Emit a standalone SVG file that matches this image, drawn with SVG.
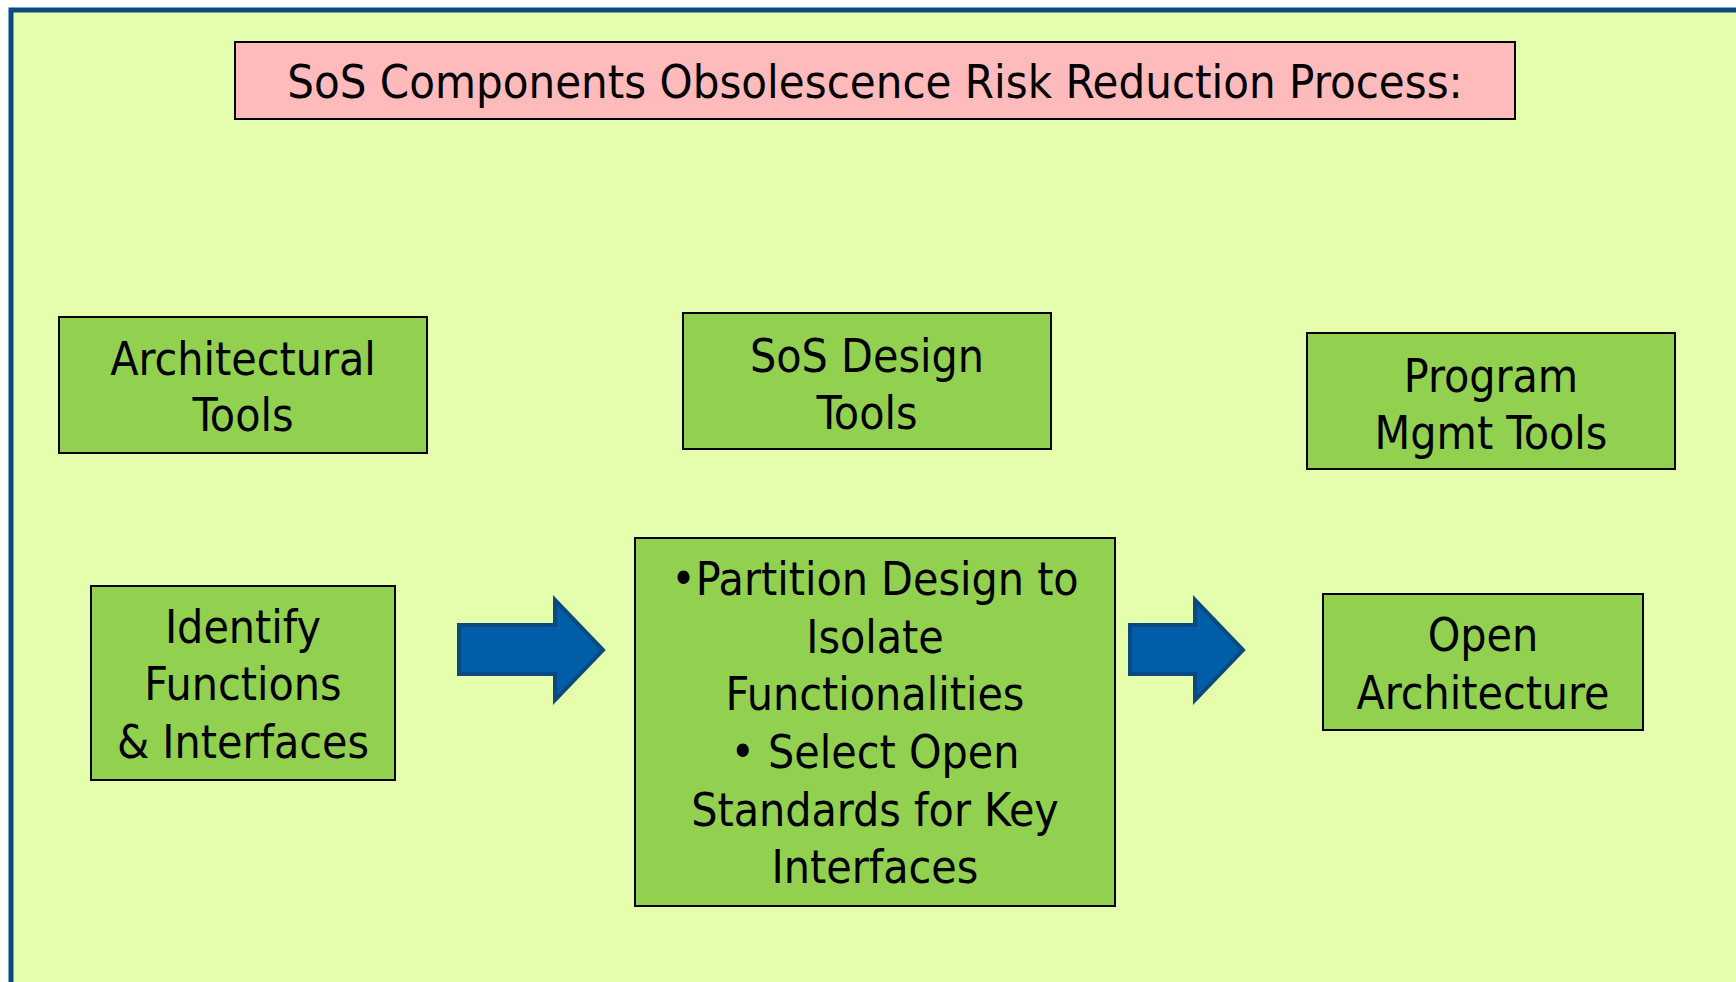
<svg xmlns="http://www.w3.org/2000/svg" width="1736" height="982" viewBox="0 0 1736 982">
<style>
.bg{fill:#E4FEAD;stroke:#0B4A80;stroke-width:5}
.box{fill:#92D050;stroke:#000;stroke-width:2}
.title{fill:#FFBBBB;stroke:#000;stroke-width:2}
.arrow{fill:#005EA8;stroke:#0B4A80;stroke-width:4;stroke-linejoin:miter}
text{font-family:"DejaVu Sans Condensed","DejaVu Sans",sans-serif;font-stretch:condensed;font-size:46px;fill:#000;text-anchor:middle}
</style>
<rect x="0" y="0" width="1736" height="982" fill="#fff"/>
<rect class="bg" x="11" y="10" width="1740" height="990"/>
<g id="title">
<rect class="title" x="235" y="42" width="1280" height="77"/>
<text x="875" y="98" style="font-size:46.8px">SoS Components Obsolescence Risk Reduction Process:</text>
</g>
<g id="architectural-tools">
<rect class="box" x="59" y="317" width="368" height="136"/>
<text x="243" y="375">Architectural</text>
<text x="243" y="431">Tools</text>
</g>
<g id="sos-design-tools">
<rect class="box" x="683" y="313" width="368" height="136"/>
<text x="867" y="372">SoS Design</text>
<text x="867" y="429">Tools</text>
</g>
<g id="program-mgmt-tools">
<rect class="box" x="1307" y="333" width="368" height="136"/>
<text x="1491" y="392">Program</text>
<text x="1491" y="449">Mgmt Tools</text>
</g>
<g id="identify">
<rect class="box" x="91" y="586" width="304" height="194"/>
<text x="243" y="643">Identify</text>
<text x="243" y="700">Functions</text>
<text x="243" y="758">&amp; Interfaces</text>
</g>
<g id="partition">
<rect class="box" x="635" y="538" width="480" height="368"/>
<text x="875" y="595">•Partition Design to</text>
<text x="875" y="653">Isolate</text>
<text x="875" y="710">Functionalities</text>
<text x="875" y="768">• Select Open</text>
<text x="875" y="826">Standards for Key</text>
<text x="875" y="883">Interfaces</text>
</g>
<g id="open-architecture">
<rect class="box" x="1323" y="594" width="320" height="136"/>
<text x="1483" y="651">Open</text>
<text x="1483" y="709">Architecture</text>
</g>
<g id="connectors">
<polygon class="arrow" points="459,625 555,625 555,600 603,650 555,700 555,674 459,674"/>
<polygon class="arrow" points="1130,625 1195,625 1195,600 1243,650 1195,700 1195,674 1130,674"/>
</g>
</svg>
